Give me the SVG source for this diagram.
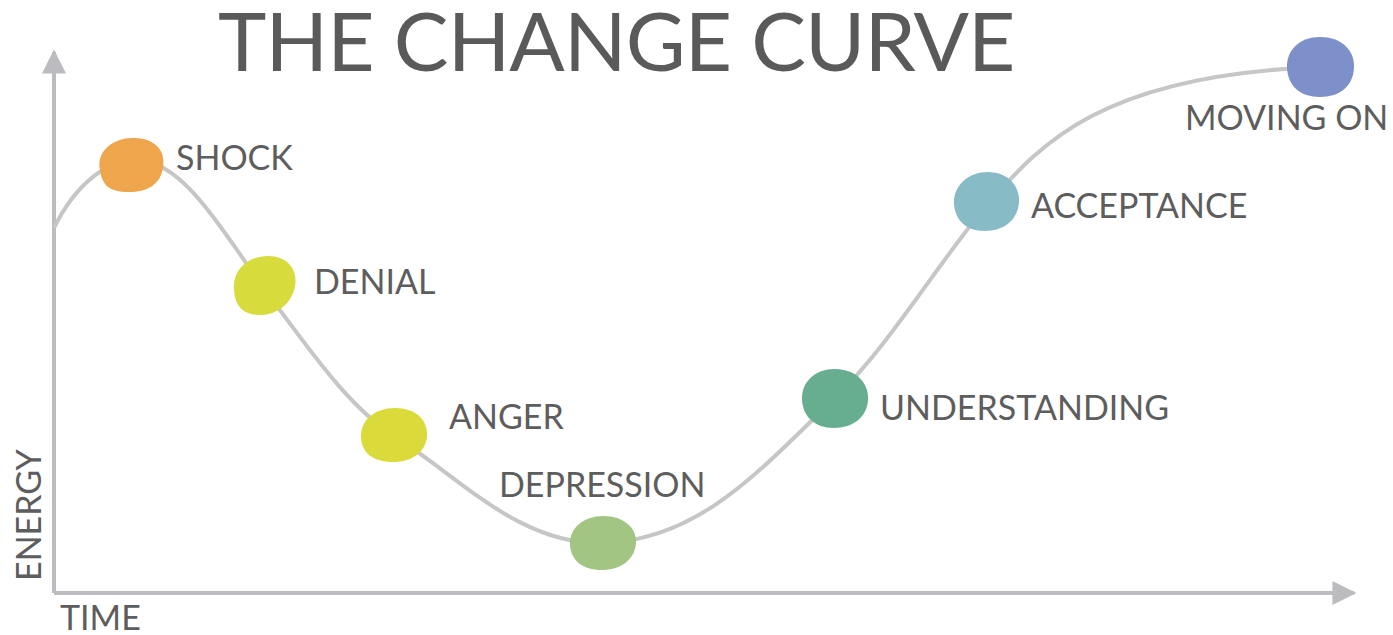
<svg xmlns="http://www.w3.org/2000/svg" width="1393" height="635" viewBox="0 0 1393 635">
  <style>
    .lbl { font-family: Lato, "Open Sans", "Liberation Sans", sans-serif; fill: #5d5d5d; font-size: 34px; }
    .title { font-family: Lato, "Open Sans", "Liberation Sans", sans-serif; fill: #5a5a5a; font-size: 82px; letter-spacing: -0.9px; }
    .axis { stroke: #bcbcc0; stroke-width: 4; fill: none; }
    .curve { stroke: #c6c6c6; stroke-width: 4; fill: none; }
  </style>
  <defs>
    <marker id="arrow" viewBox="0 0 10 10" refX="9" refY="5" markerWidth="6" markerHeight="6" markerUnits="strokeWidth" orient="auto">
      <path d="M0,0 L10,5 L0,10 z" fill="#bcbcc0"/>
    </marker>
  </defs>
  <rect width="1393" height="635" fill="#ffffff"/>

  <text class="title" x="218" y="71">THE CHANGE CURVE</text>

  <!-- axes -->
  <g id="axes">
    <path class="axis" d="M54,593 L54,52" marker-end="url(#arrow)"/>
    <path class="axis" d="M54,593 L1354,593" marker-end="url(#arrow)"/>
    <text class="lbl" transform="translate(41,581) rotate(-90)">ENERGY</text>
    <text class="lbl" x="60" y="630">TIME</text>
  </g>

  <!-- connectors -->
  <g id="connectors">
    <path class="curve" d="M54,228 C75,185 108,158 138,160 C185,162 225,235 265,290 C310,350 350,410 400,440 C460,478 520,545 603,543 C700,540 760,470 835,398 C890,345 940,260 987,205 C1040,145 1100,75 1320,67"/>
  </g>

  <g id="shock">
    <path d="M100,170 C96,150 115,137 135,138 C155,139 166,150 163,168 C160,186 145,193 125,192 C108,191 102,184 100,170 z" fill="#eea54b"/>
    <text class="lbl" x="176" y="170">SHOCK</text>
  </g>
  <g id="denial">
    <path d="M234,290 C232,270 248,256 268,256 C288,256 298,270 295,286 C292,304 276,316 258,315 C241,314 235,304 234,290 z" fill="#d8db3c"/>
    <text class="lbl" x="314" y="294">DENIAL</text>
  </g>
  <g id="anger">
    <path d="M361,438 C360,420 375,408 395,408 C416,408 428,420 427,436 C426,452 412,462 393,462 C373,462 362,453 361,438 z" fill="#dadb3a"/>
    <text class="lbl" x="449" y="429">ANGER</text>
  </g>
  <g id="depression">
    <path d="M570,545 C569,528 584,516 603,516 C624,516 637,528 636,543 C635,560 620,570 602,570 C582,570 571,560 570,545 z" fill="#a3c584"/>
    <text class="lbl" x="499" y="497">DEPRESSION</text>
  </g>
  <g id="understanding">
    <path d="M802,400 C801,382 815,369 835,369 C856,369 869,383 868,400 C867,417 853,428 834,428 C814,428 803,416 802,400 z" fill="#67ad90"/>
    <text class="lbl" x="880" y="420">UNDERSTANDING</text>
  </g>
  <g id="acceptance">
    <path d="M954,204 C953,186 968,172 988,172 C1008,172 1020,186 1019,202 C1018,220 1004,231 985,231 C965,231 955,219 954,204 z" fill="#87bcc6"/>
    <text class="lbl" x="1031" y="218">ACCEPTANCE</text>
  </g>
  <g id="moving-on">
    <path d="M1287,68 C1286,50 1300,37 1320,37 C1341,37 1355,50 1354,68 C1353,86 1340,97 1320,97 C1300,97 1288,86 1287,68 z" fill="#7d90c9"/>
    <text class="lbl" x="1185" y="130">MOVING ON</text>
  </g>
</svg>
